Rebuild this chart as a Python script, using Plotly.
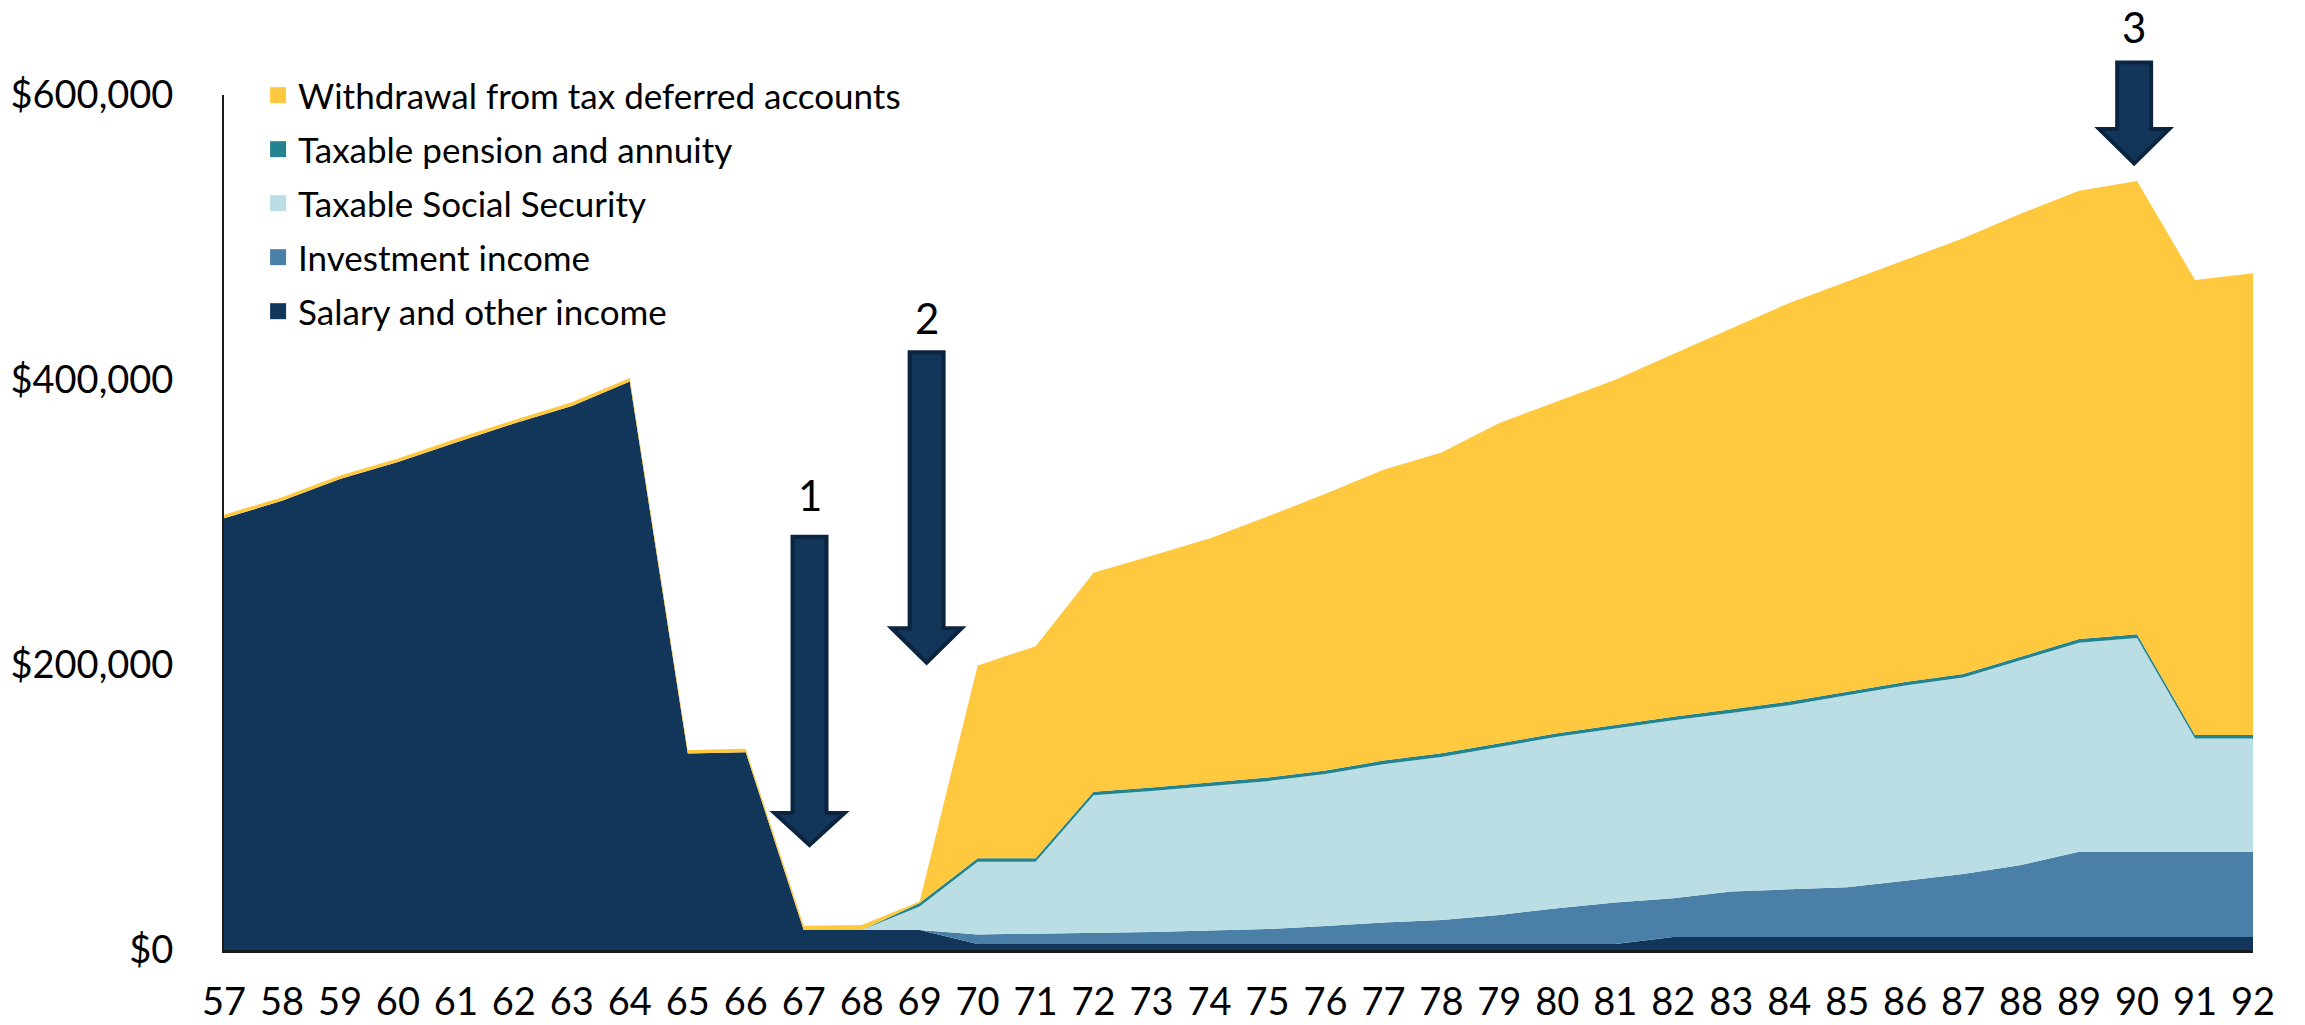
import plotly.graph_objects as go

ages = list(range(57, 93))

# values in dollars
salary = [303000, 315200, 330500, 342500, 356200, 369400, 381800, 398900, 137900, 138700,
          14000, 14000, 14000, 4200, 4200, 4200, 4200, 4200, 4200, 4200,
          4200, 4200, 4200, 4200, 4200, 9100, 9100, 9100, 9100, 9100,
          9100, 9100, 9100, 9100, 9100, 9100]
investment = [0, 0, 0, 0, 0, 0, 0, 0, 0, 0,
              0, 0, 0, 6700, 7200, 7700, 8500, 9500, 10500, 12700,
              15100, 16800, 20400, 25100, 29200, 27200, 31900, 33500, 34900, 39500,
              44300, 50500, 59900, 59900, 59900, 59900]
social_security = [0, 0, 0, 0, 0, 0, 0, 0, 0, 0,
                   0, 0, 16500, 51000, 50500, 96700, 98900, 101300, 103800, 106600,
                   111100, 114500, 117900, 120300, 122000, 124900, 125400, 129200, 134800, 137000,
                   137800, 143700, 146700, 150000, 79400, 79400]
pension = [0, 0, 0, 0, 0, 0, 0, 0, 0, 0,
           0, 0, 2500, 2500, 2500, 2500, 2500, 2500, 2500, 2500,
           2500, 2500, 2500, 2500, 2500, 2500, 2500, 2500, 2500, 2500,
           2500, 2500, 2500, 2500, 2500, 2500]
withdrawal = [2500, 2500, 2500, 2500, 2500, 2500, 2500, 2500, 2500, 2500,
              3000, 3500, 1000, 135200, 148800, 153600, 162500, 171200, 183200, 194200,
              204100, 211200, 224900, 232900, 242300, 254500, 267200, 279800, 287900, 296100,
              305700, 311000, 314600, 318100, 319300, 324000]

series = [
    ("Salary and other income", salary, "#12355A"),
    ("Investment income", investment, "#4A80A8"),
    ("Taxable Social Security", social_security, "#BADEE3"),
    ("Taxable pension and annuity", pension, "#23848F"),
    ("Withdrawal from tax deferred accounts", withdrawal, "#FEC93E"),
]

y_ticks = [0, 200000, 400000, 600000]
FONT = "Lato"

fig = go.Figure()
for name, vals, col in series:
    fig.add_trace(go.Scatter(
        x=ages, y=vals, stackgroup="one", mode="lines",
        line=dict(width=0, color=col), fillcolor=col,
        name=name, showlegend=False, hoverinfo="x+y+name"))
# legend entries with square swatches (top of legend = top of stack)
for i, (name, vals, col) in enumerate(reversed(series)):
    fig.add_trace(go.Scatter(
        x=[None], y=[None], mode="markers",
        marker=dict(symbol="square", size=16, color=col),
        name=name, legendgroup=f"g{i}", showlegend=True))

# annotation arrows (1, 2, 3): age centre, top, head base, tip (paper y), label y
arrows = [
    (67.1, 0.4834, 0.1602, 0.1228, "1", 0.532),
    (69.12, 0.699, 0.3763, 0.336, "2", 0.739),
    (89.95, 1.038, 0.9602, 0.920, "3", 1.080),
]
sw, hw = 0.293, 0.604
for cx, top, base, tip, lab, ly in arrows:
    path = (f"M {cx-sw},{top} L {cx+sw},{top} L {cx+sw},{base} L {cx+hw},{base} "
            f"L {cx},{tip} L {cx-hw},{base} L {cx-sw},{base} Z")
    fig.add_shape(type="path", path=path, xref="x", yref="paper",
                  fillcolor="#12355A", line=dict(color="#0B2440", width=4), layer="above")
    fig.add_annotation(x=cx, y=ly, xref="x", yref="paper", text=lab, showarrow=False,
                       xanchor="center", yanchor="middle",
                       font=dict(family=FONT, size=42, color="#000000"))

fig.update_layout(
    width=2305, height=1025,
    margin=dict(l=224, r=52, t=95, b=75, autoexpand=False),
    paper_bgcolor="white", plot_bgcolor="white",
    font=dict(family=FONT, color="#000000"),
    showlegend=True,
    legend=dict(x=0.0168, y=1.034, xanchor="left", yanchor="top",
                traceorder="grouped", tracegroupgap=5.5,
                font=dict(family=FONT, size=35, color="#000000"),
                bgcolor="rgba(0,0,0,0)", borderwidth=0, itemwidth=30),
    xaxis=dict(range=[57, 92], tickvals=ages, ticktext=[str(a) for a in ages],
               showgrid=False, zeroline=False, showline=True, linecolor="#1a1a1a",
               linewidth=3, ticks="", ticklabelstandoff=16, automargin=False,
               tickfont=dict(family=FONT, size=38, color="#000000")),
    yaxis=dict(range=[0, 600000], tickvals=y_ticks, tickformat="$,.0f",
               showgrid=False, zeroline=False, showline=True, linecolor="#1a1a1a",
               linewidth=2, ticks="", ticklabelstandoff=41, automargin=False,
               tickfont=dict(family=FONT, size=38, color="#000000")),
)

fig.write_html("out.html")
